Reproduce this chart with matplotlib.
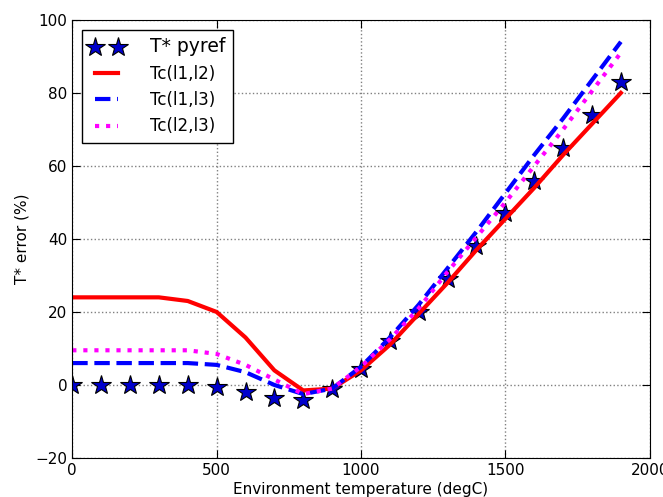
import numpy as np
import matplotlib
matplotlib.use('Agg')
import matplotlib.pyplot as plt

# data
temps = [0, 100, 200, 300, 400, 500, 600, 700, 800, 900,
         1000, 1100, 1200, 1300, 1400, 1500, 1600, 1700, 1800, 1900]
t_pyref = [0, 0, 0, 0, 0, -0.5, -2, -3.5, -4, -1,
           4.5, 12, 20, 29, 38, 47, 56, 65, 74, 83]
tc_l1_l2 = [24, 24, 24, 24, 23, 20, 13, 4, -1.5, -1,
            4, 11, 19.5, 28, 37, 45.5, 54, 63, 71.5, 80]
tc_l1_l3 = [6, 6, 6, 6, 6, 5.5, 3.5, 0, -2.5, -1,
            5, 13, 22, 32, 42, 52.5, 63, 73, 83.5, 94]
tc_l2_l3 = [9.5, 9.5, 9.5, 9.5, 9.5, 8.5, 5.5, 1.5, -2.5, -1,
            5, 12.5, 21, 31, 40.5, 50, 60, 70, 80.5, 91]

fig = plt.figure(figsize=(6.63, 4.97), dpi=100)
ax = fig.add_axes([0.109, 0.0785, 0.871, 0.8815])

ax.plot(temps, t_pyref, '*', color='#0000cc', markeredgecolor='black',
        markeredgewidth=0.8, markersize=15, label='T* pyref')
ax.plot(temps, tc_l1_l2, '-', color='red', lw=3, label='Tc(l1,l2)')
ax.plot(temps, tc_l1_l3, '--', color='blue', lw=3, label='Tc(l1,l3)')
ax.plot(temps, tc_l2_l3, ':', color='magenta', lw=3, label='Tc(l2,l3)')

ax.set_xlim(0, 2000)
ax.set_ylim(-20, 100)
ax.set_xticks([0, 500, 1000, 1500, 2000])
ax.set_yticks([-20, 0, 20, 40, 60, 80, 100])
ax.grid(True, color='gray', linestyle=':', linewidth=1)
ax.tick_params(direction='in', top=True, right=True, labelsize=11, length=6)
ax.set_xlabel('Environment temperature (degC)', fontsize=11, labelpad=3)
ax.set_ylabel('T* error (%)', fontsize=11)

leg = ax.legend(loc='upper left', numpoints=2, fontsize=12, fancybox=False,
                framealpha=1, edgecolor='black', borderaxespad=0.6,
                handletextpad=1.6, borderpad=0.45)
leg.get_frame().set_linewidth(1)
leg.get_texts()[0].set_fontsize(13.5)

fig.savefig('out.png', dpi=100)
